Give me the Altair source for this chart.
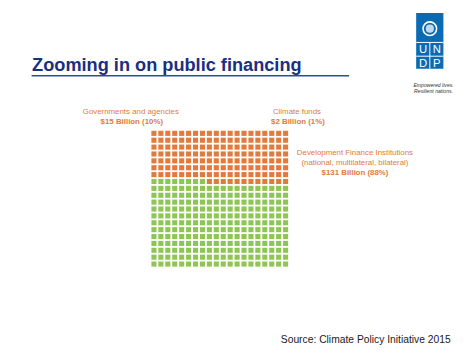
import altair as alt
import pandas as pd

# ---- data ----
categories = ["Governments and agencies", "Climate funds", "Development Finance Institutions"]
amounts_bn = [15, 2, 131]
shares_pct = [10, 1, 88]
dfi_note = "(national, multilateral, bilateral)"

waffle_groups = ["Development Finance Institutions", "Governments and agencies + Climate funds"]
waffle_cells = [248, 152]          # cells drawn per colour in the picture
grid_cols = 20
grid_rows = 20

title_text = "Zooming in on public financing"
source_text = "Source: Climate Policy Initiative 2015"
logo_letters = ["U", "N", "D", "P"]
slogan = ["Empowered lives.", "Resilient nations."]

# ---- build waffle table (filled from bottom-left, row by row) ----
cells = []
idx = 0
for g, n in zip(waffle_groups, waffle_cells):
    for _ in range(n):
        cells.append({
            "col": idx % grid_cols,
            "row": grid_rows - 1 - idx // grid_cols,
            "group": g,
        })
        idx += 1
waffle_df = pd.DataFrame(cells)

ORANGE = "#E27A3B"
GREEN = "#8DC654"
NAVY = "#1B2F80"
BLUE = "#0A6AB4"
FONT = "Liberation Sans"

one = pd.DataFrame({"d": [0]})
OX, OY = 8, 8  # page margin offset


def txt(s, x, y, size, color, bold=False, align="center", italic=False):
    return alt.Chart(one).mark_text(
        font=FONT, fontSize=size, color=color, align=align, baseline="alphabetic",
        fontWeight="bold" if bold else "normal",
        fontStyle="italic" if italic else "normal",
    ).encode(x=alt.value(x - OX), y=alt.value(y - OY), text=alt.value(s))


waffle = alt.Chart(waffle_df).mark_square(size=27, opacity=1).encode(
    x=alt.X("col:Q", axis=None,
            scale=alt.Scale(domain=[0, grid_cols - 1], range=[156.5 - OX, 156.5 - OX + 7.05 * (grid_cols - 1)])),
    y=alt.Y("row:Q", axis=None,
            scale=alt.Scale(domain=[0, grid_rows - 1], range=[132.5 - OY, 132.5 - OY + 7.0 * (grid_rows - 1)])),
    color=alt.Color("group:N", legend=None,
                    scale=alt.Scale(domain=waffle_groups, range=[GREEN, ORANGE])),
)

title = txt(title_text, 32.5, 69.5, 18.5, NAVY, bold=True, align="left")
underline = alt.Chart(one).mark_rule(color="#2C4C9C", strokeWidth=1.5).encode(
    x=alt.value(32 - OX), x2=alt.value(355 - OX), y=alt.value(74 - OY))

lab_gov1 = txt(categories[0], 133, 113, 8, ORANGE)
lab_gov2 = txt(f"${amounts_bn[0]} Billion ({shares_pct[0]}%)", 134, 122.5, 8, ORANGE, bold=True)
lab_cf1 = txt(categories[1], 302, 113, 8, ORANGE)
lab_cf2 = txt(f"${amounts_bn[1]} Billion ({shares_pct[1]}%)", 303, 122.5, 8, ORANGE, bold=True)
lab_dfi1 = txt(categories[2], 361, 154.5, 8, ORANGE)
lab_dfi2 = txt(dfi_note, 361, 164.5, 8, ORANGE)
lab_dfi3 = txt(f"${amounts_bn[2]} Billion ({shares_pct[2]}%)", 361, 175, 8, ORANGE, bold=True)

source = txt(source_text, 458.5, 346, 10.5, "#1a1a1a", align="right")

# ---- logo ----
logo_box = alt.Chart(one).mark_rect(color=BLUE).encode(
    x=alt.value(423.3 - OX), x2=alt.value(451 - OX), y=alt.value(10 - OY), y2=alt.value(66.7 - OY))
logo_h1 = alt.Chart(one).mark_rule(color="white", strokeWidth=1).encode(
    x=alt.value(423.3 - OX), x2=alt.value(451 - OX), y=alt.value(40 - OY))
logo_h2 = alt.Chart(one).mark_rule(color="white", strokeWidth=1).encode(
    x=alt.value(423.3 - OX), x2=alt.value(451 - OX), y=alt.value(54 - OY))
logo_v = alt.Chart(one).mark_rule(color="white", strokeWidth=1).encode(
    x=alt.value(437.2 - OX), y=alt.value(40 - OY), y2=alt.value(66.7 - OY))
emblem_ring = alt.Chart(one).mark_point(shape="circle", filled=False, color="white",
                                        strokeWidth=1.6, size=190, opacity=1).encode(
    x=alt.value(437.2 - OX), y=alt.value(26 - OY))
emblem_globe = alt.Chart(one).mark_point(shape="circle", filled=True, color="white",
                                         size=70, opacity=0.75).encode(
    x=alt.value(437.2 - OX), y=alt.value(26 - OY))
letter_pos = [(430.3, 51), (444.2, 51), (430.3, 65.5), (444.2, 65.5)]
letters = [txt(l, x, y, 11.5, "white") for l, (x, y) in zip(logo_letters, letter_pos)]
slog1 = txt(slogan[0], 441, 85, 5.2, "#333333", italic=True)
slog2 = txt(slogan[1], 441, 91, 5.2, "#333333", italic=True)

chart = alt.layer(
    waffle, title, underline,
    lab_gov1, lab_gov2, lab_cf1, lab_cf2, lab_dfi1, lab_dfi2, lab_dfi3,
    source, logo_box, logo_h1, logo_h2, logo_v, emblem_ring, emblem_globe,
    *letters, slog1, slog2,
).properties(
    width=466, height=347, padding=0, autosize=alt.AutoSizeParams(type="none"),
    background="white",
).configure_view(stroke=None)

chart.save("out.html", embed_options={"renderer": "svg", "actions": False})
